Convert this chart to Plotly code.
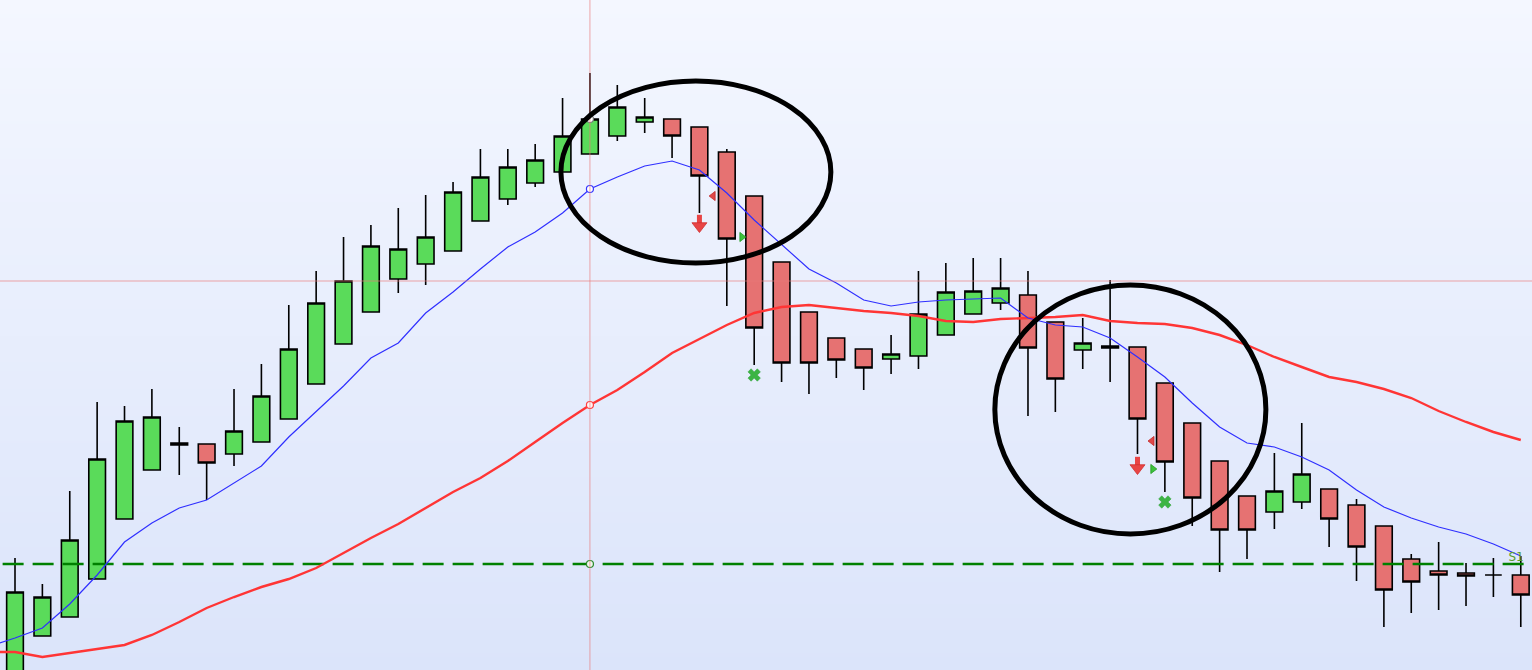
import plotly.graph_objects as go

# ---------------- data ----------------
BAR_INDEX = list(range(56))
OPEN = [1.0980, 1.1034, 1.1053, 1.1091, 1.1151, 1.1200, 1.1227, 1.1226, 1.1216, 1.1228,
        1.1251, 1.1286, 1.1326, 1.1358, 1.1391, 1.1406, 1.1419, 1.1449, 1.1471, 1.1487,
        1.1498, 1.1516, 1.1534, 1.1548, 1.1551, 1.1543, 1.1518, 1.1474, 1.1408, 1.1358,
        1.1332, 1.1321, 1.1311, 1.1314, 1.1335, 1.1356, 1.1367, 1.1375, 1.1348, 1.1320,
        1.1322, 1.1323, 1.1287, 1.1247, 1.1209, 1.1174, 1.1158, 1.1168, 1.1181, 1.1165,
        1.1144, 1.1111, 1.1099, 1.1097, 1.1095, 1.1095]
HIGH = [1.1112, 1.1086, 1.1179, 1.1268, 1.1264, 1.1281, 1.1243, 1.1226, 1.1281, 1.1306,
        1.1365, 1.1399, 1.1433, 1.1445, 1.1462, 1.1475, 1.1488, 1.1521, 1.1521, 1.1526,
        1.1572, 1.1597, 1.1585, 1.1572, 1.1551, 1.1543, 1.1521, 1.1474, 1.1408, 1.1358,
        1.1332, 1.1321, 1.1335, 1.1399, 1.1407, 1.1412, 1.1412, 1.1399, 1.1348, 1.1352,
        1.1390, 1.1323, 1.1287, 1.1247, 1.1209, 1.1174, 1.1217, 1.1247, 1.1181, 1.1171,
        1.1144, 1.1116, 1.1128, 1.1107, 1.1112, 1.1114]
LOW = [1.0970, 1.1034, 1.1053, 1.1091, 1.1151, 1.1200, 1.1195, 1.1170, 1.1204, 1.1228,
       1.1251, 1.1286, 1.1326, 1.1358, 1.1377, 1.1385, 1.1419, 1.1449, 1.1465, 1.1483,
       1.1498, 1.1516, 1.1529, 1.1537, 1.1512, 1.1457, 1.1364, 1.1305, 1.1288, 1.1276,
       1.1292, 1.1280, 1.1296, 1.1301, 1.1335, 1.1356, 1.1360, 1.1254, 1.1258, 1.1301,
       1.1288, 1.1216, 1.1178, 1.1144, 1.1098, 1.1111, 1.1141, 1.1161, 1.1123, 1.1089,
       1.1043, 1.1057, 1.1060, 1.1064, 1.1073, 1.1043]
CLOSE = [1.1078, 1.1073, 1.1130, 1.1211, 1.1249, 1.1253, 1.1225, 1.1207, 1.1239, 1.1274,
         1.1321, 1.1367, 1.1389, 1.1424, 1.1421, 1.1433, 1.1478, 1.1493, 1.1503, 1.1510,
         1.1534, 1.1551, 1.1563, 1.1553, 1.1534, 1.1494, 1.1431, 1.1342, 1.1307, 1.1307,
         1.1310, 1.1302, 1.1316, 1.1356, 1.1378, 1.1379, 1.1382, 1.1322, 1.1291, 1.1327,
         1.1324, 1.1251, 1.1208, 1.1172, 1.1140, 1.1140, 1.1179, 1.1196, 1.1151, 1.1123,
         1.1080, 1.1088, 1.1095, 1.1094, 1.1095, 1.1075]

MA_INDEX = list(range(-1, 56))
MA_FAST = [1.1023, 1.1032, 1.1042, 1.1066, 1.1095, 1.1128, 1.1147, 1.1162, 1.1170, 1.1187,
           1.1204, 1.1233, 1.1258, 1.1284, 1.1312, 1.1327, 1.1357, 1.1378, 1.1401, 1.1423,
           1.1438, 1.1457, 1.1481, 1.1493, 1.1504, 1.1509, 1.1500, 1.1477, 1.1450, 1.1425,
           1.1401, 1.1387, 1.1370, 1.1364, 1.1368, 1.1370, 1.1371, 1.1372, 1.1352, 1.1345,
           1.1343, 1.1332, 1.1313, 1.1293, 1.1267, 1.1243, 1.1227, 1.1223, 1.1213, 1.1200,
           1.1180, 1.1163, 1.1152, 1.1143, 1.1136, 1.1126, 1.1114]
MA_SLOW = [1.1018, 1.1018, 1.1013, 1.1017, 1.1021, 1.1025, 1.1035, 1.1048, 1.1062, 1.1073,
           1.1083, 1.1091, 1.1102, 1.1117, 1.1132, 1.1146, 1.1162, 1.1178, 1.1192, 1.1209,
           1.1228, 1.1247, 1.1265, 1.1280, 1.1298, 1.1317, 1.1331, 1.1345, 1.1357, 1.1363,
           1.1365, 1.1362, 1.1359, 1.1357, 1.1354, 1.1349, 1.1348, 1.1351, 1.1352, 1.1353,
           1.1355, 1.1349, 1.1347, 1.1346, 1.1342, 1.1335, 1.1325, 1.1313, 1.1303, 1.1293,
           1.1288, 1.1281, 1.1272, 1.1259, 1.1248, 1.1238, 1.1230]

S1_LEVEL = 1.1106
S1_LABEL = "S1"
CROSS_INDEX = 21
CROSS_PRICE = 1.1389

SELL_X = [25, 41]
SELL_Y = [1.1447, 1.1205]
EXIT_LEFT_X = [25.5, 41.53]
EXIT_LEFT_Y = [1.1474, 1.1229]
EXIT_RIGHT_X = [26.55, 41.56]
EXIT_RIGHT_Y = [1.1433, 1.1201]
CROSS_MARK_X = [27, 42]
CROSS_MARK_Y = [1.1295, 1.1168]

# ellipses drawn on the chart: (index from, index to, price low, price high)
ELLIPSES = [(19.94, 29.80, 1.1407, 1.1589),
            (35.79, 45.69, 1.1136, 1.1385)]

X_RANGE = [-0.548, 55.41]
Y_RANGE = [1.1000, 1.1670]

# ---------------- figure ----------------
fig = go.Figure()

# background vertical gradient
fig.add_trace(go.Heatmap(
    x=[X_RANGE[0] - 1, X_RANGE[1] + 1], y=Y_RANGE, z=[[0, 0], [1, 1]],
    colorscale=[[0, "#DBE4FA"], [1, "#F4F7FF"]], showscale=False,
    zsmooth="best", hoverinfo="skip"))

# S1 pivot dashed line
fig.add_trace(go.Scatter(
    x=[X_RANGE[0] - 1, X_RANGE[1] + 1], y=[S1_LEVEL, S1_LEVEL], mode="lines",
    line=dict(color="#008000", width=2.5, dash="21px,9px"), hoverinfo="skip"))

# moving averages
fig.add_trace(go.Scatter(x=MA_INDEX, y=MA_SLOW, mode="lines",
                         line=dict(color="#FF3535", width=2.4), hoverinfo="skip"))
fig.add_trace(go.Scatter(x=MA_INDEX, y=MA_FAST, mode="lines",
                         line=dict(color="#2F2FFF", width=1.2), hoverinfo="skip"))

# candles
fig.add_trace(go.Candlestick(
    x=BAR_INDEX, open=OPEN, high=HIGH, low=LOW, close=CLOSE,
    increasing=dict(fillcolor="#5ADB5A", line=dict(color="#000000", width=1.6)),
    decreasing=dict(fillcolor="#E67272", line=dict(color="#000000", width=1.6)),
    whiskerwidth=0, hoverinfo="skip"))

# sell arrows (stem + head)
fig.add_trace(go.Scatter(
    x=SELL_X, y=[v + 0.0004 for v in SELL_Y], mode="markers",
    marker=dict(symbol="line-ns", size=6, line=dict(color="#E84545", width=5)),
    hoverinfo="skip"))
fig.add_trace(go.Scatter(
    x=SELL_X, y=[v - 0.0003 for v in SELL_Y], mode="markers",
    marker=dict(symbol="triangle-down", size=13, color="#E84545",
                line=dict(color="#D03030", width=0.8)),
    hoverinfo="skip"))
fig.add_trace(go.Scatter(
    x=EXIT_LEFT_X, y=EXIT_LEFT_Y, mode="markers",
    marker=dict(symbol="triangle-left", size=8, color="#E04848",
                line=dict(color="#C02828", width=0.8)),
    hoverinfo="skip"))
fig.add_trace(go.Scatter(
    x=EXIT_RIGHT_X, y=EXIT_RIGHT_Y, mode="markers",
    marker=dict(symbol="triangle-right", size=8, color="#3CC23C",
                line=dict(color="#1E9A1E", width=0.8)),
    hoverinfo="skip"))
fig.add_trace(go.Scatter(
    x=CROSS_MARK_X, y=CROSS_MARK_Y, mode="markers",
    marker=dict(symbol="x", size=11, color="#3CB444",
                line=dict(color="#2E9E36", width=0.5)),
    hoverinfo="skip"))

# S1 label at the right edge
fig.add_trace(go.Scatter(
    x=[54.55], y=[S1_LEVEL], mode="text", text=[S1_LABEL],
    textposition="top right", cliponaxis=False,
    textfont=dict(family="DejaVu Sans", size=12, color="#5A9E2E"),
    hoverinfo="skip"))

# crosshair hover points
ci = CROSS_INDEX
fig.add_trace(go.Scatter(
    x=[ci, ci, ci, ci],
    y=[CLOSE[ci], MA_FAST[ci + 1], MA_SLOW[ci + 1], S1_LEVEL],
    mode="markers",
    marker=dict(symbol="circle", size=7,
                color=["#FFFFFF", "#FFFFFF", "#FFF4F4", "#F0F6EE"],
                line=dict(color=["#777777", "#3535FF", "#FF4040", "#2E8B2E"], width=1.2)),
    hoverinfo="skip"))

shapes = [
    dict(type="line", xref="x", yref="paper", x0=CROSS_INDEX, x1=CROSS_INDEX, y0=0, y1=1,
         line=dict(color="rgba(232,120,120,0.65)", width=1), layer="above"),
    dict(type="line", xref="paper", yref="y", x0=0, x1=1, y0=CROSS_PRICE, y1=CROSS_PRICE,
         line=dict(color="rgba(232,120,120,0.65)", width=1), layer="above"),
]
for (ex0, ex1, ey0, ey1) in ELLIPSES:
    shapes.append(dict(type="circle", xref="x", yref="y", x0=ex0, x1=ex1, y0=ey0, y1=ey1,
                       line=dict(color="#000000", width=5), layer="above"))

fig.update_layout(
    width=1532, height=670,
    margin=dict(l=0, r=0, t=0, b=0),
    paper_bgcolor="#DBE4FA", plot_bgcolor="#E8EEFC",
    showlegend=False,
    boxgap=0.39, boxgroupgap=0,
    shapes=shapes,
    hovermode=False,
    xaxis=dict(range=X_RANGE, visible=False, showgrid=False, zeroline=False,
               rangeslider=dict(visible=False), fixedrange=True),
    yaxis=dict(range=Y_RANGE, visible=False, showgrid=False, zeroline=False,
               fixedrange=True),
)

fig.write_html(
    "out.html",
    config={"displayModeBar": False},
    post_script="document.body.style.margin='0px';document.body.style.overflow='hidden';",
)
